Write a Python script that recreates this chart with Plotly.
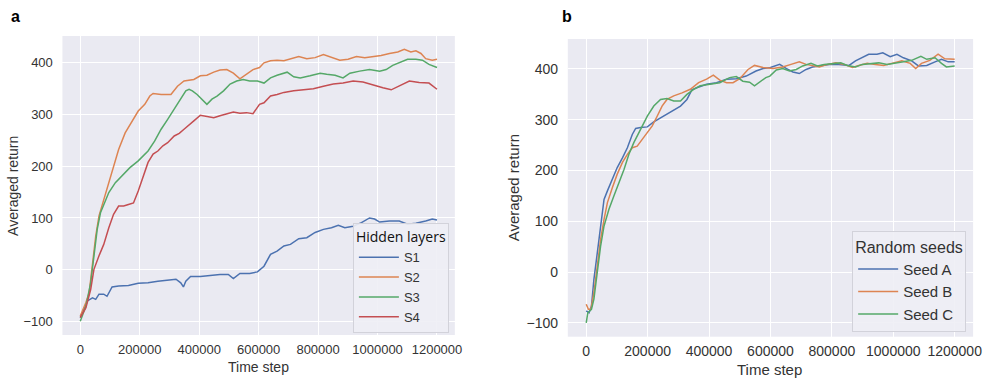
import plotly.graph_objects as go

# ---------------- data: panel a (hidden layers) ----------------
s1_t = [0, 13000, 24000, 41000, 52000, 63000, 79000, 90000, 107000, 129000, 162000, 195000, 228000,
        261000, 294000, 322000, 338000, 347000, 355000, 371000, 404000, 438000, 470000, 498000, 515000,
        537000, 570000, 596000, 618000, 640000, 662000, 685000, 707000, 735000, 762000, 790000, 818000,
        845000, 868000, 890000, 918000, 946000, 973000, 990000, 1007000, 1040000, 1073000, 1101000,
        1129000, 1162000, 1184000, 1200000]
s1_v = [-92, -76, -60, -54, -57, -47, -47, -51, -33, -31, -30, -26, -25,
        -22, -20, -18, -25, -33, -22, -13, -13, -11, -9, -9, -17,
        -7, -7, -4, 7, 30, 36, 46, 49, 60, 62, 72, 78,
        81, 86, 81, 84, 91, 100, 98, 92, 94, 94, 88,
        90, 94, 98, 96]

s2_t = [0, 19000, 30000, 41000, 52000, 63000, 79000, 96000, 112000, 129000, 151000, 173000, 195000,
        217000, 234000, 245000, 272000, 305000, 327000, 349000, 382000, 404000, 426000, 449000, 470000,
        493000, 515000, 537000, 559000, 581000, 603000, 618000, 640000, 662000, 685000, 707000, 735000,
        762000, 790000, 818000, 845000, 873000, 901000, 929000, 957000, 984000, 1012000, 1040000,
        1068000, 1090000, 1112000, 1129000, 1146000, 1162000, 1184000, 1200000]
s2_v = [-89, -63, -44, 7, 65, 104, 136, 168, 200, 232, 264, 284, 306,
        319, 335, 340, 338, 338, 354, 364, 367, 374, 375, 381, 385,
        386, 379, 368, 377, 386, 390, 399, 403, 404, 403, 406, 411,
        407, 409, 415, 409, 404, 406, 411, 409, 411, 413, 417,
        420, 425, 420, 422, 417, 407, 404, 406]

s3_t = [0, 19000, 35000, 46000, 57000, 68000, 79000, 96000, 118000, 140000, 167000, 195000, 228000,
        250000, 272000, 294000, 316000, 338000, 355000, 366000, 377000, 393000, 410000, 426000, 443000,
        460000, 482000, 504000, 526000, 548000, 570000, 596000, 618000, 640000, 662000, 696000, 718000,
        740000, 773000, 807000, 829000, 857000, 884000, 907000, 940000, 973000, 1007000, 1029000,
        1051000, 1073000, 1101000, 1129000, 1151000, 1173000, 1200000]
s3_v = [-99, -70, -25, 27, 78, 110, 126, 149, 168, 181, 197, 210, 229,
        248, 271, 290, 309, 329, 345, 348, 345, 338, 329, 319, 329,
        335, 345, 358, 364, 367, 364, 364, 360, 370, 375, 381, 372,
        370, 374, 379, 377, 375, 370, 379, 383, 386, 383, 386,
        394, 399, 406, 406, 404, 396, 390]

s4_t = [0, 19000, 35000, 46000, 63000, 79000, 96000, 112000, 129000, 146000, 162000, 179000, 195000,
        212000, 228000, 245000, 261000, 278000, 294000, 316000, 333000, 349000, 366000, 382000, 404000,
        426000, 449000, 470000, 493000, 515000, 537000, 559000, 581000, 603000, 618000, 640000, 662000,
        685000, 718000, 751000, 784000, 818000, 851000, 884000, 918000, 951000, 984000, 1018000,
        1046000, 1073000, 1107000, 1140000, 1173000, 1200000]
s4_v = [-92, -73, -38, 1, 27, 49, 81, 107, 123, 123, 126, 129, 152,
        181, 207, 223, 229, 239, 245, 258, 263, 271, 280, 287, 298,
        295, 293, 297, 300, 304, 302, 303, 301, 319, 322, 335, 338,
        342, 345, 347, 349, 354, 358, 360, 364, 362, 356, 351,
        347, 354, 364, 361, 360, 348]

# ---------------- data: panel b (random seeds) ----------------
sa_t = [0, 9000, 17000, 25000, 36000, 47000, 58000, 69000, 85000, 101000, 118000, 134000, 150000,
        161000, 177000, 199000, 220000, 242000, 263000, 285000, 307000, 328000, 344000, 360000, 392000,
        424000, 457000, 489000, 521000, 553000, 576000, 600000, 630000, 651000, 673000, 694000, 716000,
        737000, 764000, 791000, 823000, 856000, 877000, 899000, 920000, 947000, 966000, 990000,
        1012000, 1033000, 1060000, 1082000, 1109000, 1136000, 1157000, 1179000, 1200000]
sa_v = [-76, -80, -67, -14, 38, 91, 143, 160, 183, 206, 225, 245, 271,
        283, 285, 286, 296, 304, 311, 319, 327, 340, 359, 363, 370,
        373, 380, 381, 386, 396, 401, 403, 409, 401, 394, 391, 399,
        404, 407, 409, 409, 407, 416, 422, 429, 429, 432, 424,
        429, 422, 416, 406, 407, 414, 419, 414, 414]

sb_t = [0, 7000, 15000, 25000, 36000, 47000, 58000, 69000, 85000, 101000, 118000, 134000, 150000,
        166000, 183000, 199000, 215000, 231000, 247000, 263000, 285000, 312000, 339000, 366000, 392000,
        414000, 435000, 457000, 478000, 500000, 527000, 548000, 576000, 608000, 640000, 667000, 694000,
        716000, 737000, 759000, 786000, 813000, 840000, 867000, 888000, 915000, 942000, 969000,
        1001000, 1028000, 1055000, 1073000, 1092000, 1119000, 1146000, 1168000, 1200000]
sb_v = [-63, -73, -73, -40, 12, 65, 104, 137, 166, 193, 216, 232, 245,
        248, 262, 275, 288, 307, 327, 340, 347, 353, 360, 373, 380,
        388, 378, 373, 373, 381, 399, 407, 403, 401, 404, 409, 414,
        409, 406, 404, 409, 412, 409, 403, 407, 411, 409, 407,
        412, 416, 411, 401, 411, 417, 429, 420, 419]

sc_t = [0, 5000, 17000, 25000, 36000, 47000, 58000, 74000, 90000, 107000, 123000, 139000, 155000,
        177000, 199000, 220000, 242000, 263000, 285000, 307000, 328000, 350000, 371000, 403000, 435000,
        467000, 489000, 510000, 532000, 548000, 564000, 585000, 598000, 619000, 640000, 662000, 684000,
        705000, 732000, 753000, 775000, 802000, 829000, 850000, 877000, 899000, 926000, 953000,
        980000, 1006000, 1033000, 1060000, 1090000, 1109000, 1136000, 1157000, 1173000, 1200000]
sc_v = [-100, -80, -73, -53, 0, 52, 91, 124, 150, 176, 202, 232, 255,
        281, 307, 327, 340, 342, 337, 337, 350, 360, 367, 370, 373,
        383, 385, 376, 374, 367, 374, 383, 386, 398, 401, 396, 399,
        406, 411, 406, 409, 411, 412, 407, 404, 409, 411, 412,
        409, 411, 414, 417, 425, 419, 422, 411, 404, 406]

panel_a_names = ["S1", "S2", "S3", "S4"]
panel_b_names = ["Seed A", "Seed B", "Seed C"]
x_ticks = [0, 200000, 400000, 600000, 800000, 1000000, 1200000]
y_ticks = [-100, 0, 100, 200, 300, 400]

colors = ["#4C72B0", "#DD8452", "#55A868", "#C44E52"]

W, H = 993, 379
fig = go.Figure()

for name, t, v, c in zip(panel_a_names, [s1_t, s2_t, s3_t, s4_t], [s1_v, s2_v, s3_v, s4_v], colors):
    fig.add_trace(go.Scatter(x=t, y=v, mode="lines", name=name, line=dict(color=c, width=1.5),
                             xaxis="x", yaxis="y", legend="legend"))
for name, t, v, c in zip(panel_b_names, [sa_t, sb_t, sc_t], [sa_v, sb_v, sc_v], colors):
    fig.add_trace(go.Scatter(x=t, y=v, mode="lines", name=name, line=dict(color=c, width=1.5),
                             xaxis="x2", yaxis="y2", legend="legend2"))

tick_font = dict(family="Liberation Sans, Arial, sans-serif", size=13, color="#333333")

def xax(domain, anchor, size, tl):
    return dict(domain=domain, anchor=anchor, range=[-60000, 1260000], tickvals=x_ticks,
                ticktext=[str(v) for v in x_ticks], showgrid=True, gridcolor="white", gridwidth=1,
                zeroline=False, showline=False, ticks="outside", ticklen=tl,
                tickcolor="rgba(0,0,0,0)", tickfont=dict(tick_font, size=size))

def yax(domain, anchor, rng, size):
    return dict(domain=domain, anchor=anchor, range=rng, tickvals=y_ticks,
                ticktext=[("\u2212" + str(-v)) if v < 0 else str(v) for v in y_ticks],
                showgrid=True, gridcolor="white", gridwidth=1, zeroline=False, showline=False,
                ticks="outside", ticklen=6, tickcolor="rgba(0,0,0,0)",
                tickfont=dict(tick_font, size=size))

legend_common = dict(bgcolor="rgba(238,238,245,0.9)", bordercolor="#d2d2da", borderwidth=1,
                     xanchor="right", yanchor="bottom", itemwidth=40, tracegroupgap=0)

fig.update_layout(
    width=W, height=H,
    margin=dict(l=0, r=0, t=0, b=0),
    paper_bgcolor="white", plot_bgcolor="#EAEAF2",
    font=dict(family="Liberation Sans, Arial, sans-serif", color="#333333"),
    xaxis=xax([63 / W, 459 / W], "y", 13, 2),
    yaxis=yax([1 - 335 / H, 1 - 36 / H], "x", [-125.6, 450.7], 13),
    xaxis2=xax([573 / W, 982 / W], "y2", 14, 1),
    yaxis2=yax([1 - 336.7 / H, 1 - 39 / H], "x2", [-127, 459], 14),
    legend=dict(legend_common, x=453 / W, y=1 - 333 / H,
                title=dict(text="Hidden layers", font=dict(family="Open Sans, sans-serif", size=14, color="#111111")),
                font=dict(family="Liberation Sans, Arial, sans-serif", size=13, color="#333333")),
    legend2=dict(legend_common, x=975 / W, y=1 - 332 / H,
                 title=dict(text="Random seeds", font=dict(family="Liberation Sans, Arial, sans-serif", size=16, color="#333333")),
                 font=dict(family="Liberation Sans, Arial, sans-serif", size=15, color="#333333")),
    showlegend=True,
)

def ann(text, x, y, size, rot=0, bold=False, color="#333333"):
    fig.add_annotation(text=("<b>%s</b>" % text) if bold else text, x=x / W, y=1 - y / H,
                       xref="paper", yref="paper", showarrow=False, textangle=rot,
                       font=dict(family="Liberation Sans, Arial, sans-serif", size=size, color=color),
                       xanchor="center", yanchor="middle")

ann("a", 16, 16, 16, bold=True, color="#000000")
ann("b", 572, 16, 16, bold=True, color="#000000")
ann("Averaged return", 13, 186, 14, rot=-90)
ann("Time step", 261, 367, 14)
ann("Averaged return", 518, 188, 15, rot=-90)
ann("Time step", 777, 369, 15)

fig.write_html("out.html")
